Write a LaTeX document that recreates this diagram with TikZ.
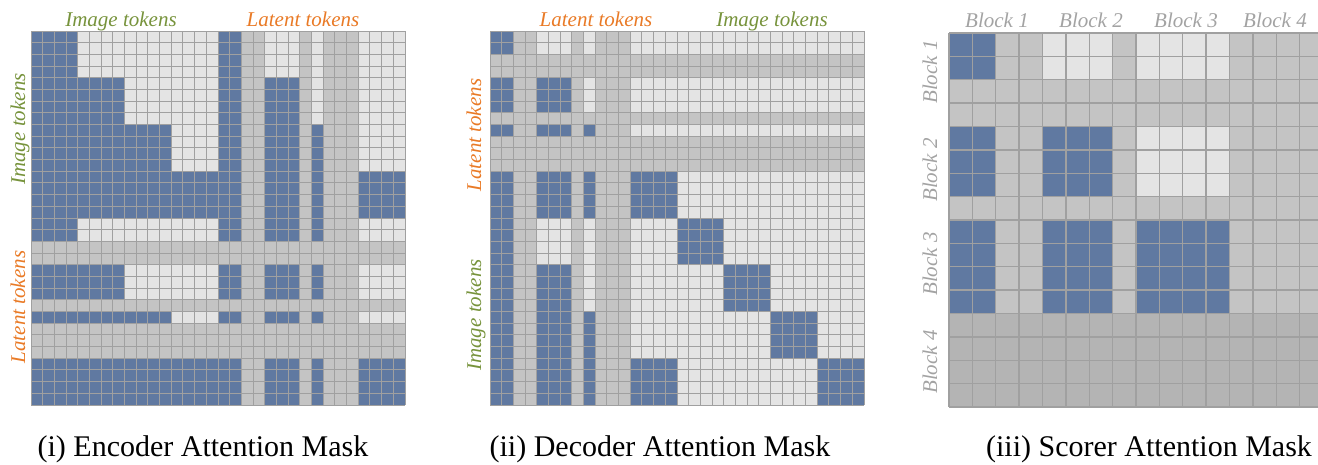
\documentclass[tikz,border=0pt]{standalone}
\usepackage{fontspec}
\setmainfont{Liberation Serif}
\definecolor{maskblue}{RGB}{96,121,161}
\definecolor{masklight}{RGB}{228,228,228}
\definecolor{maskgray}{RGB}{196,196,196}
\definecolor{maskdark}{RGB}{180,180,180}
\definecolor{gridgray}{RGB}{160,160,160}
\definecolor{imggreen}{RGB}{119,147,60}
\definecolor{latorange}{RGB}{233,122,38}
\definecolor{blocktext}{RGB}{163,163,163}

\begin{document}
\begin{tikzpicture}[x=1pt,y=-1pt,
  cellon/.style={fill=maskblue},
  celloff/.style={fill=masklight},
  cellpad/.style={fill=maskgray},
  celldrop/.style={fill=maskdark},
  cellline/.style={draw=gridgray,line width=0.9pt},
  toklabel/.style={inner sep=0pt,anchor=base,font=\fontsize{21}{21}\selectfont\itshape},
  caption/.style={inner sep=0pt,anchor=base,font=\fontsize{30}{30}\selectfont}]
\useasboundingbox (0,0) rectangle (1318,464);
\clip (0,0) rectangle (1318,464);

\begin{scope}[shift={(31pt,-31pt)},x=11.6875pt,y=-11.6875pt]
\fill[celloff] (0,0) rectangle (32,32);
\foreach \ca/\ra/\cb/\rb in {0/0/4/4,0/4/8/8,0/8/12/12,0/12/16/16,16/0/18/32,20/4/23/32,24/8/25/32,28/12/32/16,0/16/4/18,0/20/8/23,0/24/12/25,0/28/16/32,28/28/32/32}
  \fill[cellon] (\ca,\ra) rectangle (\cb,\rb);
\foreach \p in {18,19,23,25,26,27}
  \fill[cellpad] (\p,0) rectangle ++(1,32) (0,\p) rectangle ++(32,1);
\foreach \k in {0,...,32}
  \draw[cellline] (\k,0) -- (\k,32) (0,\k) -- (32,\k);
\end{scope}

\begin{scope}[shift={(490pt,-31pt)},x=11.6875pt,y=-11.6875pt]
\fill[celloff] (0,0) rectangle (32,32);
\foreach \ca/\ra/\cb/\rb in {0/0/2/32,4/4/7/16,4/20/7/32,8/8/9/16,8/24/9/32,12/12/16/16,12/28/16/32,16/16/20/20,20/20/24/24,24/24/28/28,28/28/32/32}
  \fill[cellon] (\ca,\ra) rectangle (\cb,\rb);
\foreach \p in {2,3,7,9,10,11}
  \fill[cellpad] (\p,0) rectangle ++(1,32) (0,\p) rectangle ++(32,1);
\foreach \k in {0,...,32}
  \draw[cellline] (\k,0) -- (\k,32) (0,\k) -- (32,\k);
\end{scope}

\begin{scope}[shift={(949pt,-33pt)},x=23.375pt,y=-23.375pt]
\fill[celloff] (0,0) rectangle (16,16);
\foreach \ca/\ra/\cb/\rb in {0/0/2/12,4/4/7/12,8/8/12/12}
  \fill[cellon] (\ca,\ra) rectangle (\cb,\rb);
\foreach \p in {2,3,7}
  \fill[cellpad] (\p,0) rectangle ++(1,16) (0,\p) rectangle ++(16,1);
\fill[cellpad] (12,0) rectangle (16,12);
\fill[celldrop] (0,12) rectangle (16,16);
\foreach \k in {0,...,16}
  \draw[cellline,line width=1.3pt] (\k,0) -- (\k,16) (0,\k) -- (16,\k);
\end{scope}

\node[toklabel,text=imggreen] (encimgtop) at (121,26) {Image tokens};
\node[toklabel,text=latorange] (enclattop) at (303,26) {Latent tokens};
\node[toklabel,text=imggreen,rotate=90] (encimgside) at (25,129) {Image tokens};
\node[toklabel,text=latorange,rotate=90] (enclatside) at (25,307) {Latent tokens};

\node[toklabel,text=latorange] (declattop) at (596,26) {Latent tokens};
\node[toklabel,text=imggreen] (decimgtop) at (772,26) {Image tokens};
\node[toklabel,text=latorange,rotate=90] (declatside) at (481,135) {Latent tokens};
\node[toklabel,text=imggreen,rotate=90] (decimgside) at (481,315) {Image tokens};

\node[toklabel,text=blocktext] (sctop1) at (997,27) {Block 1};
\node[toklabel,text=blocktext] (sctop2) at (1091,27) {Block 2};
\node[toklabel,text=blocktext] (sctop3) at (1186,27) {Block 3};
\node[toklabel,text=blocktext] (sctop4) at (1275,27) {Block 4};
\node[toklabel,text=blocktext,rotate=90] (scside1) at (937,72) {Block 1};
\node[toklabel,text=blocktext,rotate=90] (scside2) at (937,170) {Block 2};
\node[toklabel,text=blocktext,rotate=90] (scside3) at (937,264) {Block 3};
\node[toklabel,text=blocktext,rotate=90] (scside4) at (937,362) {Block 4};

\node[caption] (enccap) at (203,456) {(i) Encoder Attention Mask};
\node[caption] (deccap) at (660,456) {(ii) Decoder Attention Mask};
\node[caption] (sccap) at (1149,456) {(iii) Scorer Attention Mask};
\end{tikzpicture}
\end{document}
